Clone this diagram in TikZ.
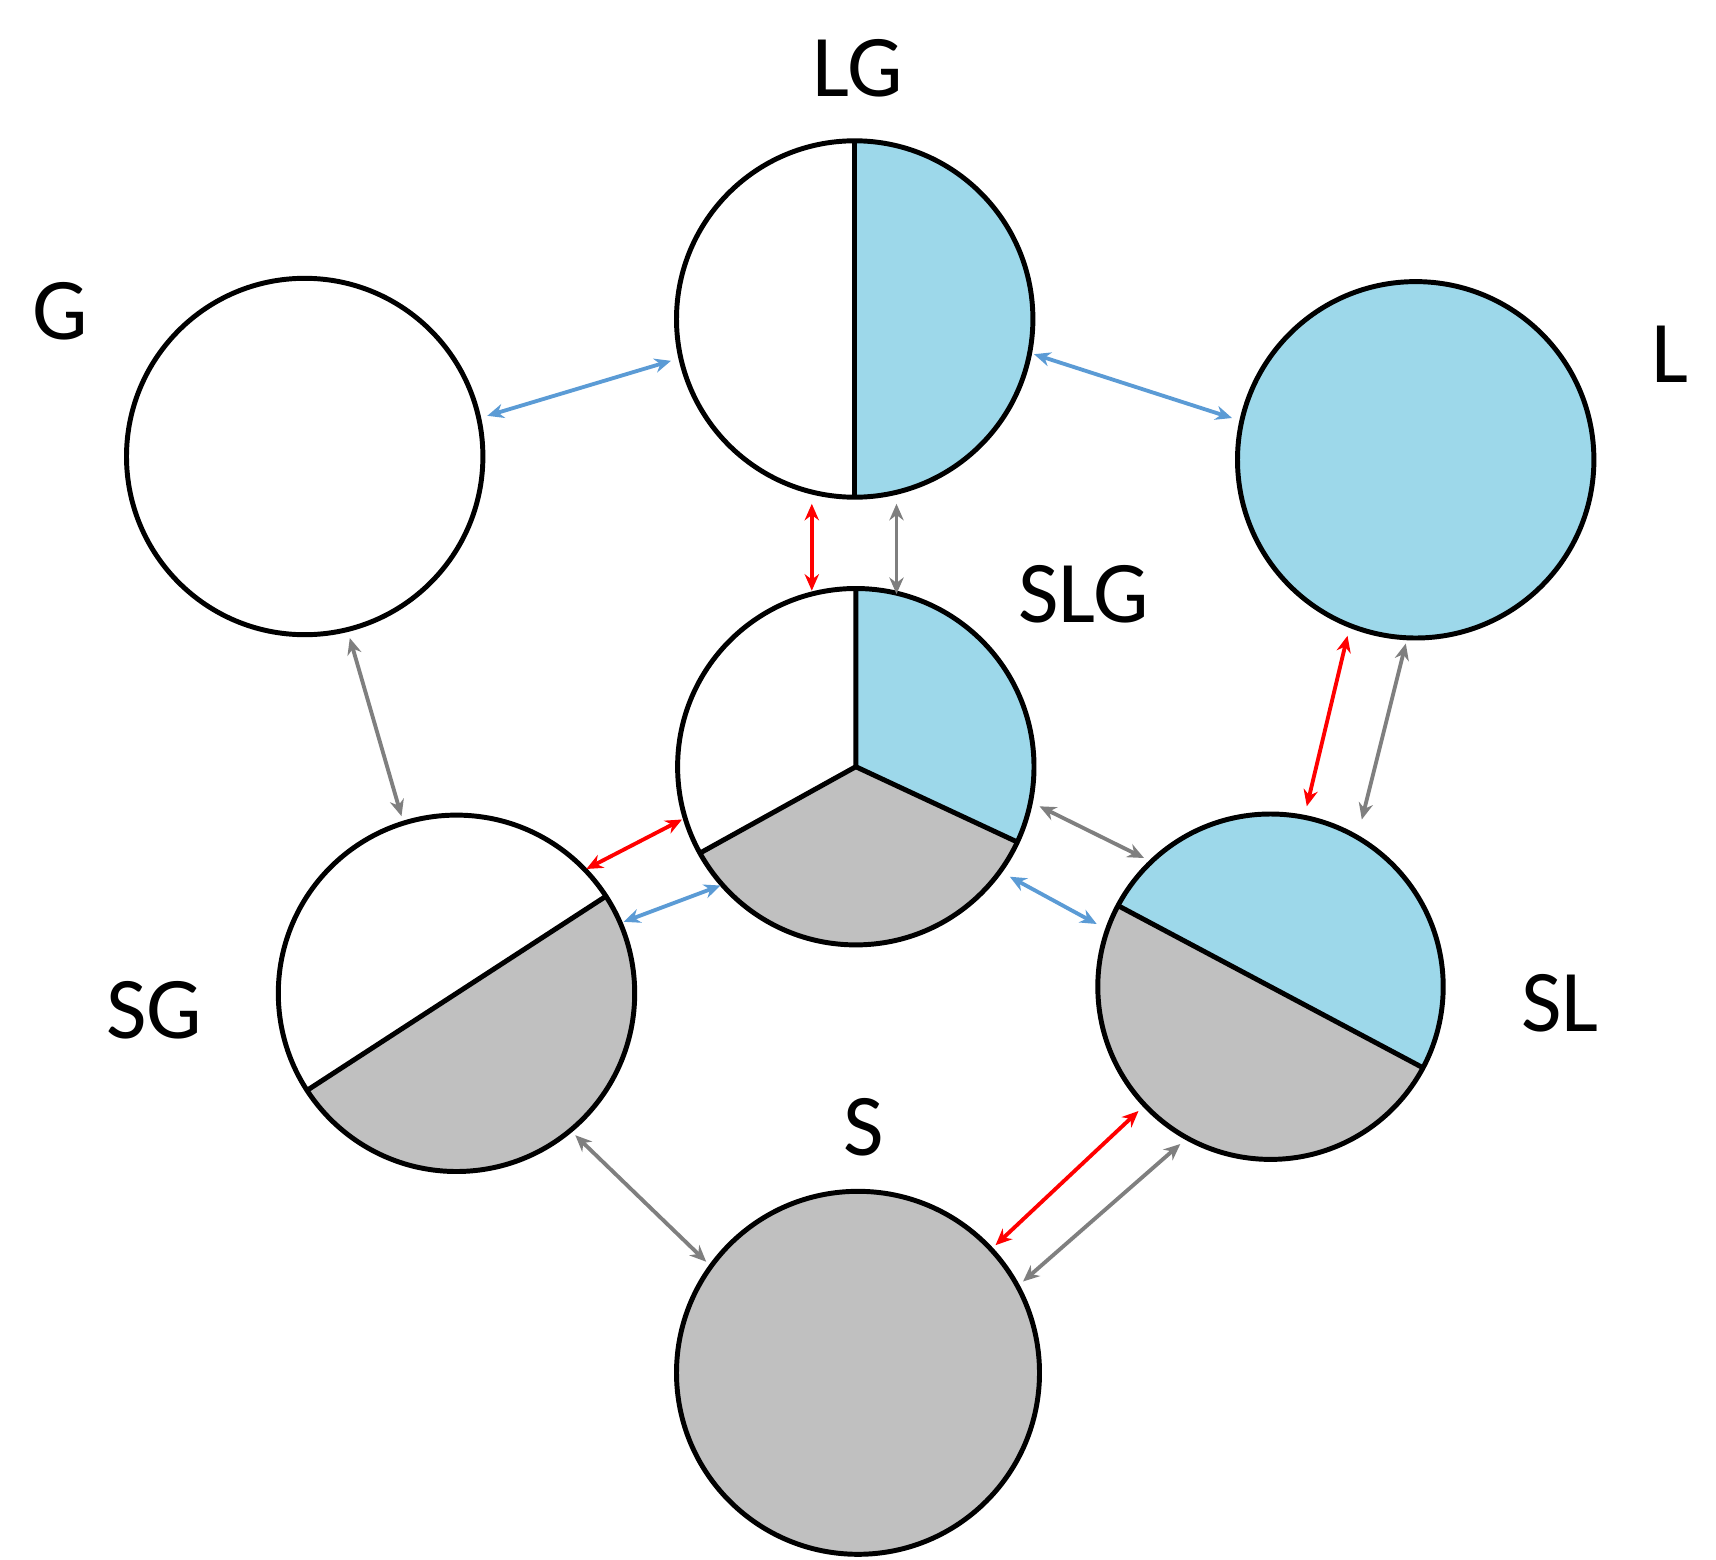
\documentclass[tikz,border=0pt]{standalone}
\usepackage{fontspec}
\setmainfont{Carlito}
\usetikzlibrary{arrows.meta}
\definecolor{lb}{HTML}{9DD8EA}
\definecolor{gr}{HTML}{C0C0C0}
\definecolor{ab}{HTML}{5B9BD5}
\definecolor{ag}{HTML}{7F7F7F}
\begin{document}
\begin{tikzpicture}[x=1pt,y=-1pt,
 circ/.style={line width=4.5pt},
 arr/.style={line width=3.5pt,{Stealth[length=15pt,width=13pt]}-{Stealth[length=15pt,width=13pt]}},
 lab/.style={font=\fontsize{80}{80}\selectfont,inner sep=0pt}]
\useasboundingbox (0,0) rectangle (1560,1418);
\def\R{162}
% LG
\fill[lb] (777,290) ++(-90:\R) arc[start angle=-90,end angle=90,radius=\R] -- cycle;
\draw[circ] (777,290) circle[radius=\R];
\draw[circ] (777,128) -- (777,452);
% G
\draw[circ] (277,415) circle[radius=\R];
% L
\draw[circ,fill=lb] (1287,418) circle[radius=\R];
% SLG
\fill[lb] (778,697) -- ++(-90:\R) arc[start angle=-90,end angle=25,radius=\R] -- cycle;
\fill[gr] (778,697) -- ++(25:\R) arc[start angle=25,end angle=151,radius=\R] -- cycle;
\draw[circ] (778,697) circle[radius=\R];
\draw[circ] (778,535) -- (778,697) -- ++(25:\R);
\draw[circ] (778,697) -- ++(151:\R);
% SG
\fill[gr] (415,903) -- ++(-33:\R) arc[start angle=-33,end angle=147,radius=\R] -- cycle;
\draw[circ] (415,903) circle[radius=\R];
\draw[circ] (415,903) ++(-33:\R) -- ++(147:2*\R);
% SL
\fill[lb] (1155,897) -- ++(28:157) arc[start angle=28,end angle=-152,radius=157] -- cycle;
\fill[gr] (1155,897) -- ++(28:157) arc[start angle=28,end angle=208,radius=157] -- cycle;
\draw[circ] (1155,897) circle[radius=157];
\draw[circ] (1155,897) ++(28:157) -- ++(208:314);
% S
\draw[circ,fill=gr] (780,1248) circle[radius=165];
% labels
\node[lab] (tG) at (55,283) {G};
\node[lab] (tLG) at (780,62) {LG};
\node[lab] (tL) at (1518,322) {L};
\node[lab] (tSLG) at (985,540) {SLG};
\node[lab] (tSG) at (140,918) {SG};
\node[lab] (tSL) at (1418,912) {SL};
\node[lab] (tS) at (785,1025) {S};
% connector ends
\coordinate (a1) at (443,378); \coordinate (a2) at (610,328);
\coordinate (b1) at (940,322); \coordinate (b2) at (1120,380);
\coordinate (c1) at (567,838); \coordinate (c2) at (655,805);
\coordinate (d1) at (918,797); \coordinate (d2) at (997,840);
\coordinate (e1) at (738,458); \coordinate (e2) at (738,537);
\coordinate (f1) at (533,790); \coordinate (f2) at (620,745);
\coordinate (g1) at (1225,578); \coordinate (g2) at (1188,733);
\coordinate (h1) at (1035,1010); \coordinate (h2) at (905,1132);
\coordinate (i1) at (815,458); \coordinate (i2) at (815,540);
\coordinate (j1) at (318,580); \coordinate (j2) at (365,742);
\coordinate (k1) at (945,733); \coordinate (k2) at (1040,780);
\coordinate (l1) at (1278,585); \coordinate (l2) at (1238,745);
\coordinate (m1) at (523,1032); \coordinate (m2) at (642,1147);
\coordinate (n1) at (1073,1040); \coordinate (n2) at (930,1165);
\draw[arr,ab] (a1) -- (a2);
\draw[arr,ab] (b1) -- (b2);
\draw[arr,ab] (c1) -- (c2);
\draw[arr,ab] (d1) -- (d2);
\draw[arr,red] (e1) -- (e2);
\draw[arr,red] (f1) -- (f2);
\draw[arr,red] (g1) -- (g2);
\draw[arr,red] (h1) -- (h2);
\draw[arr,ag] (i1) -- (i2);
\draw[arr,ag] (j1) -- (j2);
\draw[arr,ag] (k1) -- (k2);
\draw[arr,ag] (l1) -- (l2);
\draw[arr,ag] (m1) -- (m2);
\draw[arr,ag] (n1) -- (n2);
\end{tikzpicture}
\end{document}
